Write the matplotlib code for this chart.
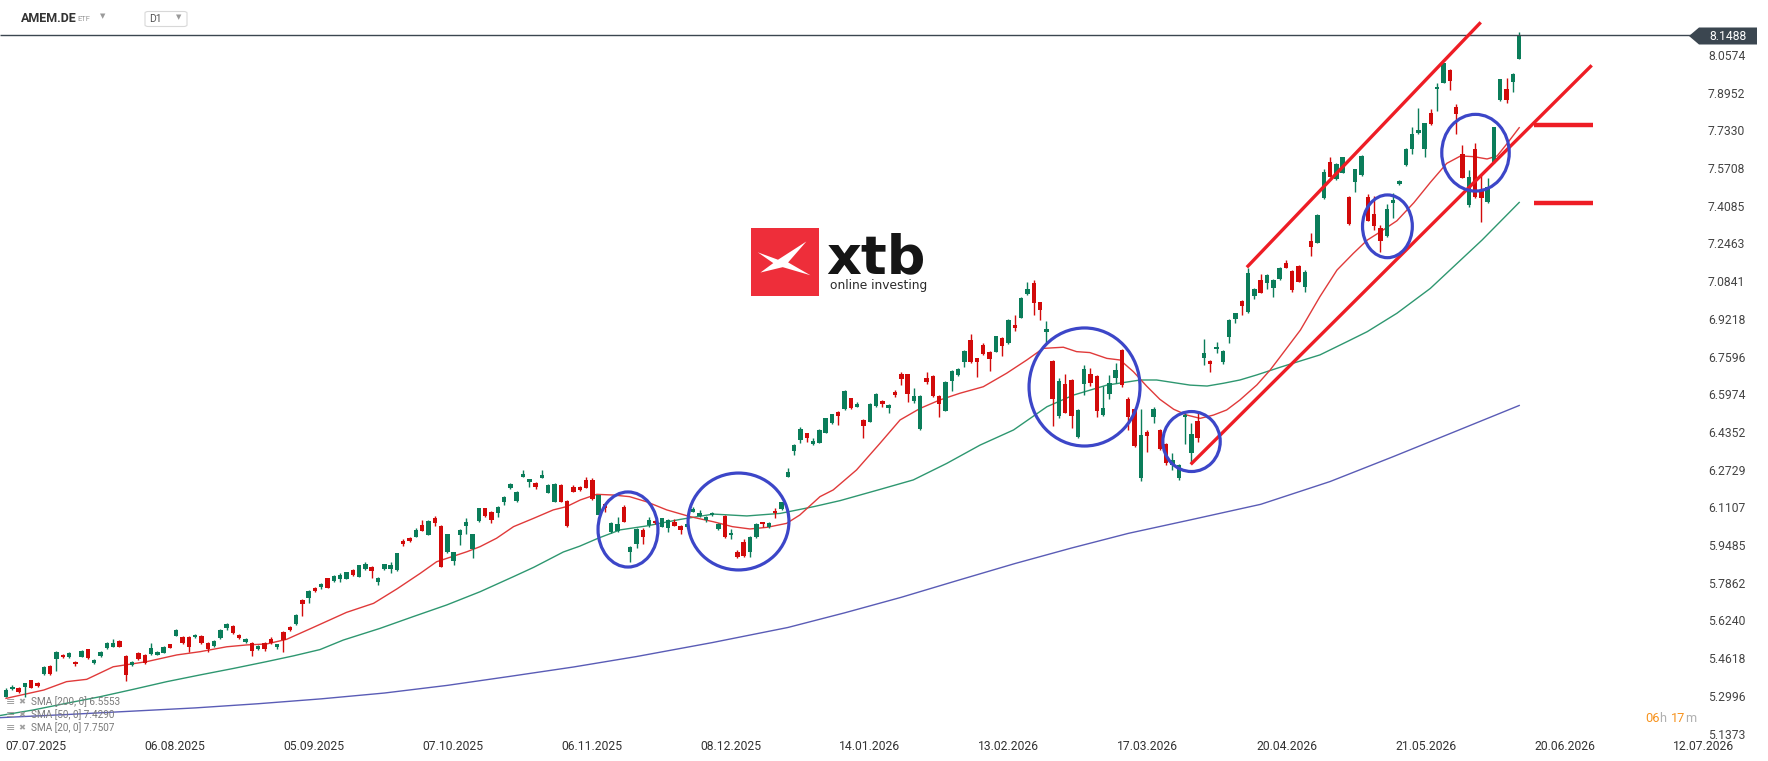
"""
plot.py — AMEM.DE daily candles with SMA 20/50/200, channel and marked zones
"""
import numpy as np
import matplotlib
matplotlib.use("Agg")
import matplotlib.pyplot as plt
from matplotlib.patches import Ellipse, Polygon, FancyBboxPatch, Rectangle

plt.rcParams["font.family"] = ["Roboto", "DejaVu Sans"]

# ── Data ─────────────────────────────────────────────────────────────────────
opens = [
    5.302, 5.335, 5.341, 5.342, 5.374, 5.360, 5.400, 5.434, 5.463, 5.483,
    5.474, 5.453, 5.474, 5.506, 5.446, 5.479, 5.510, 5.518, 5.542, 5.477,
    5.439, 5.492, 5.482, 5.486, 5.483, 5.492, 5.527, 5.565, 5.561, 5.561,
    5.558, 5.565, 5.535, 5.520, 5.553, 5.599, 5.606, 5.569, 5.539, 5.535,
    5.506, 5.535, 5.550, 5.518, 5.582, 5.602, 5.615, 5.718, 5.726, 5.770,
    5.774, 5.813, 5.800, 5.809, 5.810, 5.847, 5.819, 5.853, 5.862, 5.797,
    5.852, 5.852, 5.847, 5.972, 5.985, 5.991, 6.041, 6.000, 6.071, 6.037,
    5.926, 5.888, 5.998, 6.037, 5.937, 6.058, 6.113, 6.098, 6.094, 6.140,
    6.199, 6.144, 6.249, 6.228, 6.223, 6.245, 6.180, 6.141, 6.213, 6.144,
    6.203, 6.203, 6.235, 6.235, 6.086, 6.131, 6.009, 6.017, 6.117, 5.926,
    5.959, 6.020, 6.041, 6.058, 6.034, 6.027, 6.055, 6.037, 6.034, 6.098,
    6.080, 6.063, 6.084, 6.022, 6.080, 5.997, 5.925, 5.966, 5.926, 5.988,
    6.052, 6.034, 6.101, 6.109, 6.249, 6.361, 6.407, 6.435, 6.388, 6.395,
    6.438, 6.479, 6.529, 6.540, 6.586, 6.550, 6.493, 6.486, 6.555, 6.575,
    6.543, 6.612, 6.691, 6.689, 6.576, 6.453, 6.672, 6.682, 6.596, 6.533,
    6.662, 6.687, 6.741, 6.837, 6.758, 6.816, 6.787, 6.787, 6.847, 6.823,
    6.902, 6.933, 7.035, 7.084, 6.999, 6.873, 6.747, 6.510, 6.648, 6.665,
    6.421, 6.646, 6.691, 6.682, 6.514, 6.605, 6.672, 6.794, 6.583, 6.539,
    6.245, 6.441, 6.507, 6.450, 6.390, 6.299, 6.245, 6.504, 6.352, 6.489,
    6.761, 6.747, 6.797, 6.741, 6.851, 6.927, 7.005, 6.959, 7.028, 7.095,
    7.081, 7.059, 7.098, 7.170, 7.134, 7.156, 7.067, 7.263, 7.256, 7.447,
    7.601, 7.528, 7.557, 7.454, 7.518, 7.547, 7.454, 7.379, 7.318, 7.285,
    7.428, 7.507, 7.590, 7.658, 7.729, 7.657, 7.812, 7.916, 7.944, 7.999,
    7.841, 7.638, 7.419, 7.659, 7.478, 7.431, 7.604, 7.870, 7.916, 7.949,
    8.048,
]
highs = [
    5.338, 5.352, 5.345, 5.362, 5.376, 5.364, 5.433, 5.437, 5.498, 5.487,
    5.493, 5.457, 5.503, 5.508, 5.463, 5.497, 5.537, 5.549, 5.546, 5.480,
    5.457, 5.496, 5.485, 5.535, 5.498, 5.520, 5.531, 5.594, 5.565, 5.564,
    5.572, 5.568, 5.538, 5.546, 5.592, 5.620, 5.610, 5.572, 5.555, 5.538,
    5.524, 5.538, 5.558, 5.531, 5.585, 5.605, 5.657, 5.722, 5.760, 5.776,
    5.793, 5.815, 5.828, 5.833, 5.840, 5.850, 5.870, 5.880, 5.865, 5.816,
    5.875, 5.880, 5.921, 5.981, 5.989, 6.026, 6.063, 6.061, 6.080, 6.041,
    6.004, 5.927, 6.024, 6.070, 6.004, 6.116, 6.116, 6.101, 6.121, 6.164,
    6.220, 6.188, 6.278, 6.241, 6.226, 6.278, 6.216, 6.220, 6.216, 6.147,
    6.213, 6.208, 6.249, 6.242, 6.172, 6.135, 6.052, 6.074, 6.126, 5.951,
    6.026, 6.026, 6.074, 6.063, 6.073, 6.066, 6.067, 6.040, 6.048, 6.120,
    6.106, 6.080, 6.097, 6.048, 6.084, 6.022, 5.934, 5.979, 5.994, 6.048,
    6.056, 6.052, 6.113, 6.142, 6.285, 6.388, 6.464, 6.438, 6.414, 6.453,
    6.503, 6.520, 6.532, 6.621, 6.589, 6.572, 6.496, 6.565, 6.607, 6.578,
    6.560, 6.622, 6.701, 6.692, 6.629, 6.599, 6.698, 6.685, 6.599, 6.661,
    6.707, 6.716, 6.794, 6.863, 6.761, 6.824, 6.790, 6.856, 6.850, 6.926,
    6.945, 7.024, 7.088, 7.095, 7.002, 6.920, 6.750, 6.672, 6.691, 6.668,
    6.540, 6.729, 6.715, 6.685, 6.639, 6.687, 6.737, 6.797, 6.590, 6.542,
    6.540, 6.450, 6.547, 6.453, 6.393, 6.350, 6.302, 6.522, 6.479, 6.532,
    6.841, 6.750, 6.830, 6.793, 6.926, 6.955, 7.010, 7.145, 7.060, 7.121,
    7.120, 7.098, 7.152, 7.181, 7.137, 7.160, 7.138, 7.296, 7.378, 7.571,
    7.623, 7.597, 7.626, 7.457, 7.574, 7.632, 7.465, 7.457, 7.332, 7.422,
    7.468, 7.526, 7.662, 7.755, 7.834, 7.772, 7.831, 7.944, 8.031, 8.002,
    7.851, 7.676, 7.569, 7.683, 7.547, 7.533, 7.755, 7.962, 7.963, 7.985,
    8.161,
]
lows = [
    5.299, 5.331, 5.320, 5.302, 5.338, 5.344, 5.396, 5.395, 5.414, 5.469,
    5.469, 5.436, 5.472, 5.464, 5.443, 5.474, 5.507, 5.514, 5.514, 5.371,
    5.434, 5.462, 5.441, 5.483, 5.480, 5.489, 5.510, 5.562, 5.531, 5.496,
    5.555, 5.531, 5.493, 5.517, 5.550, 5.588, 5.571, 5.549, 5.535, 5.477,
    5.503, 5.499, 5.531, 5.509, 5.496, 5.586, 5.612, 5.650, 5.707, 5.754,
    5.767, 5.768, 5.797, 5.797, 5.807, 5.820, 5.816, 5.848, 5.815, 5.783,
    5.849, 5.836, 5.843, 5.951, 5.968, 5.988, 6.014, 5.997, 6.037, 5.859,
    5.922, 5.869, 5.955, 6.003, 5.898, 6.055, 6.077, 6.051, 6.077, 6.127,
    6.194, 6.141, 6.246, 6.206, 6.197, 6.242, 6.177, 6.138, 6.138, 6.031,
    6.181, 6.188, 6.199, 6.149, 6.083, 6.098, 6.006, 6.013, 6.052, 5.883,
    5.941, 5.959, 6.031, 6.044, 6.031, 6.012, 6.035, 6.002, 6.030, 6.095,
    6.077, 6.055, 6.080, 6.019, 5.984, 5.979, 5.899, 5.905, 5.905, 5.985,
    6.031, 6.027, 6.070, 6.105, 6.246, 6.342, 6.395, 6.400, 6.385, 6.392,
    6.435, 6.476, 6.471, 6.537, 6.542, 6.547, 6.414, 6.483, 6.550, 6.550,
    6.521, 6.593, 6.644, 6.572, 6.567, 6.450, 6.648, 6.590, 6.507, 6.530,
    6.619, 6.683, 6.722, 6.738, 6.676, 6.772, 6.705, 6.784, 6.768, 6.820,
    6.877, 6.930, 7.031, 6.945, 6.923, 6.826, 6.467, 6.503, 6.521, 6.457,
    6.414, 6.600, 6.639, 6.504, 6.511, 6.583, 6.654, 6.636, 6.450, 6.378,
    6.232, 6.357, 6.481, 6.365, 6.299, 6.278, 6.235, 6.390, 6.306, 6.400,
    6.730, 6.701, 6.780, 6.733, 6.823, 6.909, 6.945, 6.955, 7.012, 7.038,
    7.055, 7.023, 7.094, 7.145, 7.045, 7.085, 7.045, 7.198, 7.253, 7.442,
    7.537, 7.525, 7.554, 7.333, 7.475, 7.544, 7.348, 7.310, 7.217, 7.281,
    7.361, 7.504, 7.586, 7.637, 7.724, 7.626, 7.762, 7.824, 7.941, 7.913,
    7.724, 7.533, 7.411, 7.447, 7.346, 7.425, 7.600, 7.866, 7.858, 7.906,
    8.045,
]
closes = [
    5.331, 5.345, 5.324, 5.360, 5.341, 5.348, 5.431, 5.400, 5.496, 5.472,
    5.489, 5.441, 5.500, 5.467, 5.459, 5.493, 5.532, 5.532, 5.518, 5.396,
    5.453, 5.466, 5.446, 5.510, 5.495, 5.517, 5.513, 5.589, 5.535, 5.518,
    5.568, 5.535, 5.506, 5.542, 5.589, 5.615, 5.575, 5.553, 5.550, 5.499,
    5.520, 5.509, 5.535, 5.528, 5.546, 5.589, 5.654, 5.701, 5.757, 5.759,
    5.787, 5.771, 5.822, 5.826, 5.837, 5.826, 5.868, 5.873, 5.845, 5.813,
    5.872, 5.869, 5.919, 5.959, 5.972, 6.020, 6.017, 6.058, 6.051, 5.862,
    6.001, 5.923, 6.020, 6.055, 6.001, 6.113, 6.081, 6.063, 6.118, 6.161,
    6.216, 6.184, 6.260, 6.238, 6.206, 6.256, 6.213, 6.217, 6.141, 6.037,
    6.184, 6.192, 6.202, 6.152, 6.169, 6.113, 6.048, 6.045, 6.055, 5.948,
    6.022, 5.991, 6.063, 6.048, 6.070, 6.063, 6.038, 6.020, 6.045, 6.110,
    6.091, 6.077, 6.094, 6.045, 5.991, 6.005, 5.902, 5.909, 5.991, 6.044,
    6.044, 6.048, 6.091, 6.139, 6.269, 6.385, 6.454, 6.414, 6.404, 6.450,
    6.500, 6.517, 6.511, 6.618, 6.546, 6.562, 6.468, 6.562, 6.603, 6.560,
    6.557, 6.601, 6.668, 6.603, 6.596, 6.596, 6.658, 6.598, 6.560, 6.658,
    6.704, 6.712, 6.791, 6.741, 6.744, 6.775, 6.754, 6.853, 6.813, 6.923,
    6.890, 7.018, 7.057, 6.998, 6.966, 6.883, 6.583, 6.661, 6.524, 6.511,
    6.536, 6.711, 6.654, 6.533, 6.546, 6.654, 6.708, 6.644, 6.507, 6.381,
    6.428, 6.426, 6.540, 6.368, 6.309, 6.321, 6.299, 6.514, 6.433, 6.417,
    6.780, 6.733, 6.806, 6.790, 6.923, 6.952, 6.985, 7.124, 7.057, 7.041,
    7.117, 7.095, 7.148, 7.148, 7.052, 7.088, 7.128, 7.239, 7.375, 7.558,
    7.540, 7.594, 7.623, 7.336, 7.571, 7.629, 7.351, 7.328, 7.264, 7.401,
    7.440, 7.523, 7.659, 7.723, 7.741, 7.769, 7.767, 7.924, 8.028, 7.953,
    7.808, 7.536, 7.537, 7.454, 7.447, 7.494, 7.752, 7.959, 7.870, 7.982,
    8.1488,
]

# moving averages, sampled off the chart (bar index, value)
sma20_x = [0, 6, 9.6, 12.8, 17, 22.3, 27.1, 30.8, 35, 38.2, 41.3, 44.5, 48.7, 54,
           58.3, 62, 65.7, 68.3, 73.1, 75.2, 77.8, 80.5, 83.7, 86.8, 88.9, 91.1,
           93.7, 96.3, 98.9, 101.6, 104.8, 108.5, 112.2, 115.2, 118, 120.7, 123.8,
           125.9, 129.1, 131.2, 134.9, 138.6, 141.8, 145, 148.1, 151.3, 155, 158.7,
           161.9, 164.5, 167.7, 169.8, 171.9, 174.6, 176.7, 178.8, 180.9, 183,
           185.2, 187.3, 189.4, 191.5, 193.6, 195.7, 198.4, 200.5, 202.1, 205.3,
           208.4, 211.1, 213.7, 215.9, 218, 220.6, 223.3, 225.9, 228.5, 230.7,
           232.8, 234.9, 236.5, 238.1, 240]
sma20_y = [5.295, 5.331, 5.367, 5.377, 5.431, 5.453, 5.482, 5.496, 5.517, 5.525,
           5.529, 5.549, 5.600, 5.665, 5.704, 5.766, 5.833, 5.883, 5.926, 5.948,
           5.984, 6.034, 6.070, 6.106, 6.120, 6.149, 6.173, 6.170, 6.163, 6.141,
           6.106, 6.077, 6.055, 6.034, 6.024, 6.031, 6.048, 6.084, 6.163, 6.192,
           6.278, 6.392, 6.493, 6.543, 6.579, 6.608, 6.636, 6.694, 6.751, 6.801,
           6.806, 6.787, 6.783, 6.758, 6.751, 6.701, 6.639, 6.582, 6.539, 6.514,
           6.500, 6.514, 6.536, 6.579, 6.644, 6.708, 6.765, 6.880, 7.024, 7.138,
           7.210, 7.267, 7.303, 7.350, 7.428, 7.515, 7.597, 7.629, 7.626, 7.616,
           7.629, 7.683, 7.7507]
sma50_x = [-1, 4.3, 9.6, 14.9, 20.2, 25.5, 30.8, 36.1, 41.3, 45.6, 49.8, 53.5, 59.3,
           64.6, 69.9, 75.2, 80.5, 83.7, 88.4, 91, 94, 97.4, 101.6, 106.9, 112.2,
           117.5, 122.8, 128.1, 132.3, 138.6, 143.9, 149.2, 154.5, 159.8, 165.1,
           169.3, 174.6, 179.9, 182.5, 187.8, 190.5, 193.1, 195.7, 198.4, 202.1,
           208.4, 212.7, 215.9, 220.6, 225.9, 234.1, 240]
sma50_y = [5.221, 5.245, 5.274, 5.302, 5.334, 5.367, 5.396, 5.424, 5.453, 5.478,
           5.505, 5.546, 5.596, 5.647, 5.697, 5.754, 5.819, 5.859, 5.925, 5.950,
           5.985, 6.020, 6.037, 6.065, 6.088, 6.080, 6.091, 6.120, 6.146, 6.194,
           6.235, 6.306, 6.385, 6.450, 6.550, 6.600, 6.643, 6.665, 6.665, 6.643,
           6.639, 6.651, 6.665, 6.687, 6.720, 6.773, 6.830, 6.873, 6.952, 7.059,
           7.267, 7.429]
sma200_x = [-1, 10, 20, 30, 40, 50, 60, 70, 80, 90, 100, 112, 124, 133, 142, 151,
            160, 169, 178, 188, 199, 210, 220, 230, 240]
sma200_y = [5.212, 5.226, 5.240, 5.254, 5.272, 5.293, 5.318, 5.351, 5.390, 5.430,
            5.475, 5.535, 5.600, 5.663, 5.730, 5.803, 5.875, 5.942, 6.005, 6.064,
            6.130, 6.228, 6.335, 6.445, 6.5553]

last_price = 8.1488
sma_labels = ["SMA [200, 0] 6.5553", "SMA [50, 0] 7.4290", "SMA [20, 0] 7.7507"]

price_ticks = [8.0574, 7.8952, 7.7330, 7.5708, 7.4085, 7.2463, 7.0841, 6.9218,
               6.7596, 6.5974, 6.4352, 6.2729, 6.1107, 5.9485, 5.7862, 5.6240,
               5.4618, 5.2996, 5.1373]
date_labels = ["07.07.2025", "06.08.2025", "05.09.2025", "07.10.2025", "06.11.2025",
               "08.12.2025", "14.01.2026", "13.02.2026", "17.03.2026", "20.04.2026",
               "21.05.2026", "20.06.2026", "12.07.2026"]
date_pos = [4.7, 26.75, 48.8, 70.85, 92.9, 114.95, 137.0, 159.05, 181.1, 203.15,
            225.2, 247.25, 269.3]

# analyst drawings: channel, levels, circled zones (bar index, price)
chan_up_x, chan_up_y = [196.8, 233.9], [7.150, 8.204]
chan_lo_x, chan_lo_y = [187.9, 251.5], [6.302, 8.019]
level_x = [242.4, 251.7]
levels = [7.762, 7.425]
zone_x = [98.65, 116.18, 171.06, 188.03, 219.1, 233.07]
zone_y = [6.0217, 6.0561, 6.6349, 6.4002, 7.3263, 7.6430]
zone_w = [9.5, 16.0, 17.6, 9.1, 7.9, 10.7]
zone_h = [0.323, 0.417, 0.508, 0.258, 0.270, 0.330]

assert len(opens) == len(highs) == len(lows) == len(closes)

# ── Style ────────────────────────────────────────────────────────────────────
GREEN = "#0b7d5a"; RED = "#d20a0a"
SMA20_C = "#e03a3a"; SMA50_C = "#2e9770"; SMA200_C = "#5a5cb6"
ZONE_C = "#3c46c8"; CHAN_C = "#ee1d25"
PRICE_C = "#3b4650"; AX_TXT = "#444444"
ORANGE = "#f7931e"; LIGHT = "#b0b0b0"

W, H = 1768, 761
X0, STEP = 6.0, 6.305          # px of bar 0, px per bar
YREF, YREF_PX, PPU = 8.0574, 56.4, 232.4

fig = plt.figure(figsize=(W / 100, H / 100), dpi=100)
ax = fig.add_axes([0, 0, 1, 1])
ax.set_xlim(-X0 / STEP, (W - X0) / STEP)
ax.set_ylim(YREF - (H - YREF_PX) / PPU, YREF + YREF_PX / PPU)
ax.axis("off")

def fx(px):  # figure-fraction from pixel x
    return px / W

def fy(py):  # figure-fraction from pixel y (top-down)
    return 1 - py / H

# ── Moving averages ──────────────────────────────────────────────────────────
ax.plot(sma200_x, sma200_y, color=SMA200_C, lw=1.0, zorder=2)
ax.plot(sma50_x, sma50_y, color=SMA50_C, lw=1.0, zorder=2)
ax.plot(sma20_x, sma20_y, color=SMA20_C, lw=1.0, zorder=2)

# ── Candles ──────────────────────────────────────────────────────────────────
o = np.array(opens); h = np.array(highs); l = np.array(lows); c = np.array(closes)
idx = np.arange(len(c))
cols = np.where(c >= o, GREEN, RED)
ax.vlines(idx, l, h, colors=cols, lw=1.0, zorder=3)
ax.bar(idx, np.maximum(np.abs(c - o), 0.005), bottom=np.minimum(o, c),
       width=0.7, color=cols, linewidth=0, zorder=4)

# ── Price line + tag ─────────────────────────────────────────────────────────
ax.hlines(last_price, ax.get_xlim()[0], (1692 - X0) / STEP, color=PRICE_C, lw=1.0, zorder=5)
tag = Polygon([(fx(1689), fy(36)), (fx(1699), fy(27.5)), (fx(1757), fy(27.5)),
               (fx(1757), fy(44.5)), (fx(1699), fy(44.5))],
              closed=True, transform=fig.transFigure, fc=PRICE_C, ec="none", zorder=1.5)
fig.patches.append(tag)
fig.text(fx(1728), fy(36.5), f"{last_price:.4f}", color="white", fontsize=8.7,
         ha="center", va="center", zorder=5)

# ── Annotations ──────────────────────────────────────────────────────────────
ax.plot(chan_up_x, chan_up_y, color=CHAN_C, lw=2.4, solid_capstyle="butt", zorder=6)
ax.plot(chan_lo_x, chan_lo_y, color=CHAN_C, lw=2.4, solid_capstyle="butt", zorder=6)
for lv in levels:
    ax.plot(level_x, [lv, lv], color=CHAN_C, lw=3.2, solid_capstyle="butt", zorder=6)
for zx, zy, zw, zh in zip(zone_x, zone_y, zone_w, zone_h):
    ax.add_patch(Ellipse((zx, zy), zw, zh, fill=False, ec=ZONE_C, lw=2.3, zorder=7))

# ── Axis labels ──────────────────────────────────────────────────────────────
for v in price_ticks:
    ax.text(fx(1708), v, f"{v:.4f}", transform=ax.get_yaxis_transform(),
            fontsize=8.7, color=AX_TXT, ha="left", va="center")
for x, lab in zip(date_pos, date_labels):
    ax.text(x, fy(747), lab, transform=ax.get_xaxis_transform(),
            fontsize=8.7, color="#333333", ha="center", va="center")

# countdown "06h 17m"
for px, s, col in [(1645, "06", ORANGE), (1659.5, "h", LIGHT),
                   (1670.5, "17", ORANGE), (1685, "m", LIGHT)]:
    fig.text(fx(px), fy(718), s, fontsize=9.2, color=col, ha="left", va="center")

# SMA legend
for k, lab in enumerate(sma_labels):
    yy = fy(702 + 13 * k)
    fig.text(fx(6), yy, "≡", fontsize=8, color="#9a9a9a", ha="left", va="center",
             family="DejaVu Sans")
    fig.text(fx(18), yy, "✖", fontsize=6, color="#a0a0a0", ha="left", va="center",
             family="DejaVu Sans")
    fig.text(fx(31), yy, lab, fontsize=7.2, color="#7a7a7a", ha="left", va="center")

# ── Header ───────────────────────────────────────────────────────────────────
fig.text(fx(21), fy(18.5), "AMEM.DE", fontsize=9, fontweight="bold", color="#333333",
         ha="left", va="center")
fig.text(fx(77), fy(19), "ETF", fontsize=5.5, color="#9a9a9a", ha="left", va="center")
fig.text(fx(100), fy(16.5), "▼", fontsize=5, color="#9a9a9a", ha="left", va="center",
         family="DejaVu Sans")
fig.patches.append(FancyBboxPatch((fx(145), fy(26.5)), fx(42), 15 / H,
                                  boxstyle="round,pad=0,rounding_size=0.002",
                                  transform=fig.transFigure, fc="white", ec="#d8d8d8", lw=0.8))
fig.text(fx(149), fy(19.5), "D1", fontsize=7.5, color="#555555", ha="left", va="center")
fig.text(fx(176), fy(17), "▼", fontsize=5, color="#9a9a9a", ha="left", va="center",
         family="DejaVu Sans")

# ── xtb watermark ────────────────────────────────────────────────────────────
sq_l, sq_t, sq = 751, 228, 67.5
fig.patches.append(Rectangle((fx(sq_l), fy(sq_t + sq)), fx(sq), sq / H,
                             transform=fig.transFigure, fc="#ee2e3a", ec="none"))
mark = [(0.10, 0.64), (0.40, 0.53), (0.82, 0.80), (0.55, 0.49), (0.88, 0.30),
        (0.47, 0.42), (0.14, 0.34), (0.33, 0.48)]
fig.patches.append(Polygon([(fx(sq_l + u * sq), fy(sq_t + (1 - v) * sq)) for u, v in mark],
                           closed=True, transform=fig.transFigure, fc="white", ec="none"))
fig.text(fx(826), fy(273), "xtb", fontsize=39, fontweight="bold", color="#151515",
         ha="left", va="baseline", family="DejaVu Sans")
fig.text(fx(830), fy(285.5), "online investing", fontsize=8.8, color="#2a2a2a",
         ha="left", va="center", family="DejaVu Sans")

fig.savefig("out.png", dpi=100)
plt.close(fig)
print("Saved: out.png")
